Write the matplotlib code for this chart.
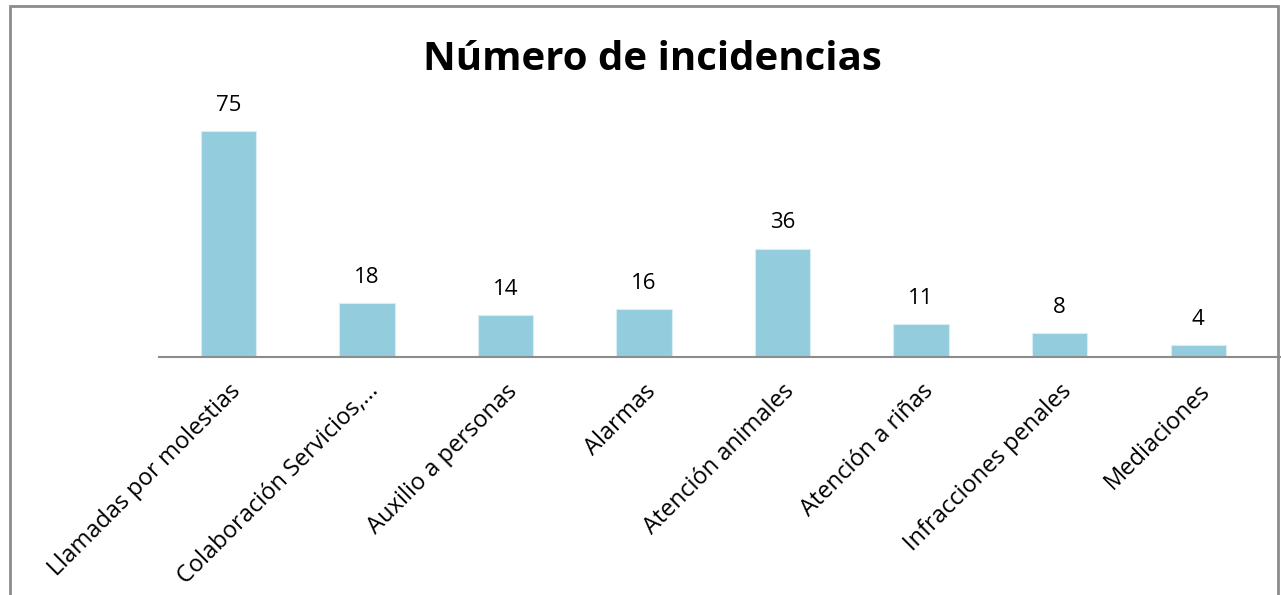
import matplotlib.pyplot as plt
from matplotlib.patches import Rectangle

plt.rcParams['font.family'] = ['Open Sans', 'DejaVu Sans']

categorias = ["Llamadas por molestias", "Colaboración Servicios,...", "Auxilio a personas",
              "Alarmas", "Atención animales", "Atención a riñas",
              "Infracciones penales", "Mediaciones"]
valores = [75, 18, 14, 16, 36, 11, 8, 4]

W, H = 1281, 595
fig = plt.figure(figsize=(W / 100, H / 100), dpi=100)

# marco gris del gráfico
fig.patches.append(Rectangle((10 / W, -0.1), 1268 / W, 1.1 - 6 / H, transform=fig.transFigure,
                             fill=False, edgecolor='#8c8c8c', linewidth=2))

ax = fig.add_axes([159 / W, 1 - 357 / H, 1121 / W, 241 / H])
x = range(len(categorias))
ax.bar(x, valores, width=0.4, color='#93CDDD', edgecolor='#d8eef4', linewidth=0.8, zorder=2)
ax.set_xlim(-0.5, 7.59)
ax.set_ylim(0, 80)

for xi, v in zip(x, valores):
    ax.text(xi, v + 5, str(v), ha='center', va='bottom', fontsize=16)

ax.set_xticks(list(x))
ax.set_xticklabels(categorias, rotation=45, ha='right', rotation_mode='anchor', fontsize=17)
ax.tick_params(axis='x', length=0, pad=16)
ax.set_yticks([])
for s in ['top', 'right', 'left']:
    ax.spines[s].set_visible(False)
ax.spines['bottom'].set_color('#8c8c8c')
ax.spines['bottom'].set_linewidth(1.5)

fig.text(652 / W, 1 - 60 / H, "Número de incidencias", ha='center', va='center',
         fontsize=29, fontweight='bold')

fig.savefig('out.png', dpi=100)
